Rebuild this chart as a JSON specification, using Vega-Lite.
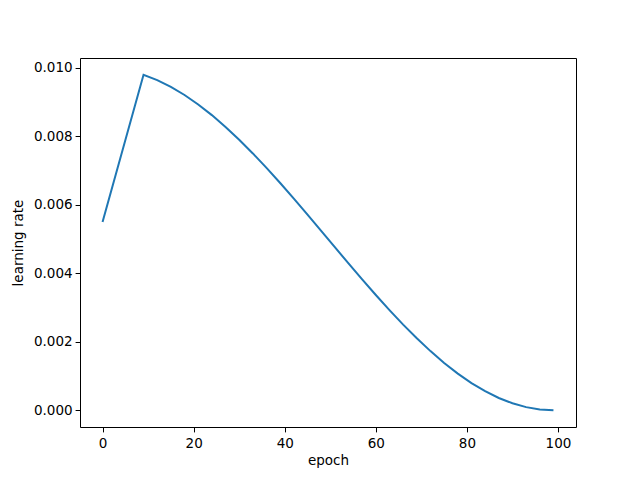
{
  "$schema": "https://vega.github.io/schema/vega-lite/v6.json",
  "autosize": "none",
  "width": 496,
  "height": 369,
  "padding": {"left": 80, "top": 58, "right": 64, "bottom": 53},
  "background": "white",
  "config": {
    "view": {"stroke": "black", "strokeWidth": 1},
    "axis": {
      "grid": false,
      "domain": false,
      "labelFont": "DejaVu Sans",
      "labelFontSize": 13.5,
      "labelColor": "black",
      "titleFont": "DejaVu Sans",
      "titleFontSize": 13.5,
      "titleFontWeight": "normal",
      "titleColor": "black",
      "tickColor": "black",
      "tickSize": 4.9,
      "tickWidth": 1,
      "labelPadding": 3
    }
  },
  "data": {
    "values": [
      {"epoch": 0, "lr": 0.0055},
      {"epoch": 9, "lr": 0.009797},
      {"epoch": 12, "lr": 0.009642},
      {"epoch": 15, "lr": 0.009444},
      {"epoch": 18, "lr": 0.009206},
      {"epoch": 21, "lr": 0.008930},
      {"epoch": 24, "lr": 0.008619},
      {"epoch": 27, "lr": 0.008274},
      {"epoch": 30, "lr": 0.007900},
      {"epoch": 33, "lr": 0.007500},
      {"epoch": 36, "lr": 0.007077},
      {"epoch": 39, "lr": 0.006635},
      {"epoch": 42, "lr": 0.006179},
      {"epoch": 45, "lr": 0.005712},
      {"epoch": 48, "lr": 0.005238},
      {"epoch": 51, "lr": 0.004762},
      {"epoch": 54, "lr": 0.004288},
      {"epoch": 57, "lr": 0.003821},
      {"epoch": 60, "lr": 0.003365},
      {"epoch": 63, "lr": 0.002923},
      {"epoch": 66, "lr": 0.002500},
      {"epoch": 69, "lr": 0.002100},
      {"epoch": 72, "lr": 0.001726},
      {"epoch": 75, "lr": 0.001381},
      {"epoch": 78, "lr": 0.001070},
      {"epoch": 81, "lr": 0.000794},
      {"epoch": 84, "lr": 0.000556},
      {"epoch": 87, "lr": 0.000358},
      {"epoch": 90, "lr": 0.000203},
      {"epoch": 93, "lr": 0.0000904},
      {"epoch": 96, "lr": 0.0000227},
      {"epoch": 99, "lr": 0.0}
    ]
  },
  "mark": {"type": "line", "color": "#1f77b4", "strokeWidth": 2},
  "encoding": {
    "x": {
      "field": "epoch",
      "type": "quantitative",
      "scale": {"domain": [-4.95, 103.95], "nice": false, "zero": false},
      "axis": {"values": [0, 20, 40, 60, 80, 100], "title": "epoch", "labelPadding": 5, "titlePadding": 3}
    },
    "y": {
      "field": "lr",
      "type": "quantitative",
      "scale": {"domain": [-0.00049, 0.010287], "nice": false, "zero": false},
      "axis": {"values": [0, 0.002, 0.004, 0.006, 0.008, 0.01], "format": ".3f", "title": "learning rate", "titlePadding": 8}
    }
  }
}
